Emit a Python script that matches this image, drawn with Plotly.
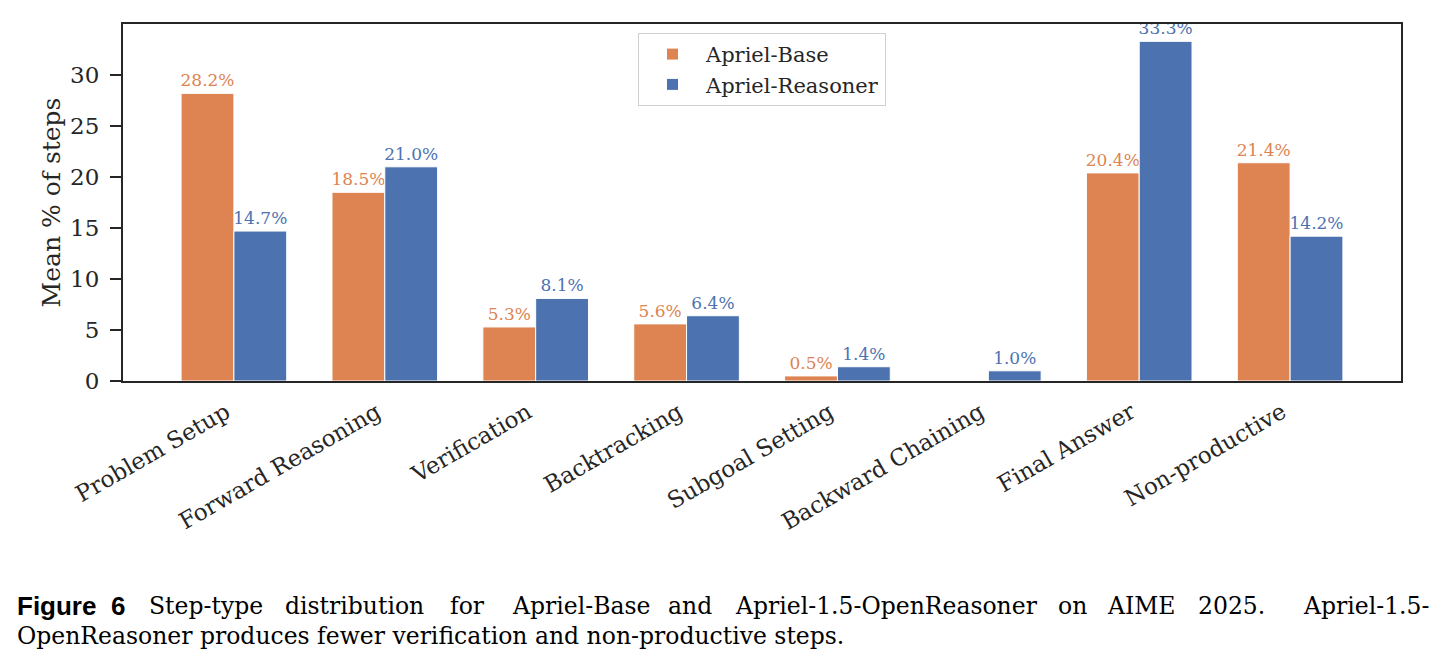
import plotly.graph_objects as go

categories = ["Problem Setup", "Forward Reasoning", "Verification", "Backtracking",
              "Subgoal Setting", "Backward Chaining", "Final Answer", "Non-productive"]
base_values = [28.2, 18.5, 5.3, 5.6, 0.5, 0.0, 20.4, 21.4]
reasoner_values = [14.7, 21.0, 8.1, 6.4, 1.4, 1.0, 33.3, 14.2]
series_names = ["Apriel-Base", "Apriel-Reasoner"]
y_ticks = [0, 5, 10, 15, 20, 25, 30]

ORANGE = "#DD8452"
BLUE = "#4C72B0"
DARK = "#262626"
SERIF = "DejaVu Serif"

W, H = 1447, 669
ML, MR, MT, MB = 123, 46, 24, 288


def labels(vals):
    return [f"{v:.1f}%" if v > 0 else "" for v in vals]


fig = go.Figure()
for name, vals, col in [(series_names[0], base_values, ORANGE),
                        (series_names[1], reasoner_values, BLUE)]:
    fig.add_trace(go.Bar(
        x=categories, y=vals, name=name,
        marker=dict(color=col, line=dict(color="white", width=1)),
        text=labels(vals), textposition="outside",
        textfont=dict(family=SERIF, size=17, color=col),
        constraintext="none", cliponaxis=False,
    ))

fig.update_layout(
    width=W, height=H, autosize=False,
    margin=dict(l=ML, r=MR, t=MT, b=MB),
    paper_bgcolor="white", plot_bgcolor="white",
    barmode="group", bargap=0.3, bargroupgap=0.0,
    font=dict(family=SERIF, color=DARK),
    showlegend=True,
    legend=dict(
        x=0.5, xanchor="center", y=0.975, yanchor="top",
        bgcolor="white", bordercolor="#d0d0d0", borderwidth=1,
        font=dict(family=SERIF, size=21, color=DARK),
        tracegroupgap=0, itemwidth=57,
    ),
)

fig.update_xaxes(
    range=[-0.735, 7.735], showline=True, linecolor=DARK, linewidth=2, mirror=True,
    ticks="", tickangle=-30, tickfont=dict(family=SERIF, size=23, color=DARK),
    ticklabelshift=-8, ticklabelstandoff=7,
    showgrid=False, zeroline=False,
)
fig.update_yaxes(
    range=[0, 35], tickvals=y_ticks, showline=True, linecolor=DARK, linewidth=2,
    mirror=True, ticks="outside", ticklen=11, tickwidth=2, tickcolor=DARK,
    tickfont=dict(family=SERIF, size=23, color=DARK), ticklabelstandoff=6,
    showgrid=False, zeroline=False,
    title=dict(text="Mean % of steps", font=dict(family=SERIF, size=25, color=DARK), standoff=2),
)

# ---- caption (pixel positions converted to paper coords) ----
def px(x):
    return (x - ML) / (W - ML - MR)


def py(y):
    return (H - MB - y) / (H - MT - MB)


CAP = "DejaVu Serif"
CAP_SIZE = 23.5
LINE1_Y, LINE2_Y = 606, 636

fig.add_annotation(text="<b>Figure</b>", x=px(15), y=py(LINE1_Y), xref="paper", yref="paper",
                   showarrow=False, xanchor="left", yanchor="middle",
                   font=dict(family="Liberation Sans", size=26, color="black"))
fig.add_annotation(text="<b>6</b>", x=px(109), y=py(LINE1_Y), xref="paper", yref="paper",
                   showarrow=False, xanchor="left", yanchor="middle",
                   font=dict(family="Liberation Sans", size=26, color="black"))

line1_words = [("Step-type", 147), ("distribution", 283), ("for", 448), ("Apriel-Base", 510),
               ("and", 666), ("Apriel-1.5-OpenReasoner", 733), ("on", 1056), ("AIME", 1105),
               ("2025.", 1196)]
for word, x0 in line1_words:
    fig.add_annotation(text=word, x=px(x0), y=py(LINE1_Y), xref="paper", yref="paper",
                       showarrow=False, xanchor="left", yanchor="middle",
                       font=dict(family=CAP, size=CAP_SIZE, color="black"))
fig.add_annotation(text="Apriel-1.5-", x=px(1431), y=py(LINE1_Y), xref="paper", yref="paper",
                   showarrow=False, xanchor="right", yanchor="middle",
                   font=dict(family=CAP, size=CAP_SIZE, color="black"))
fig.add_annotation(text="OpenReasoner produces fewer verification and non-productive steps.",
                   x=px(15), y=py(LINE2_Y), xref="paper", yref="paper",
                   showarrow=False, xanchor="left", yanchor="middle",
                   font=dict(family=CAP, size=CAP_SIZE, color="black"))

fig.write_html("out.html")
